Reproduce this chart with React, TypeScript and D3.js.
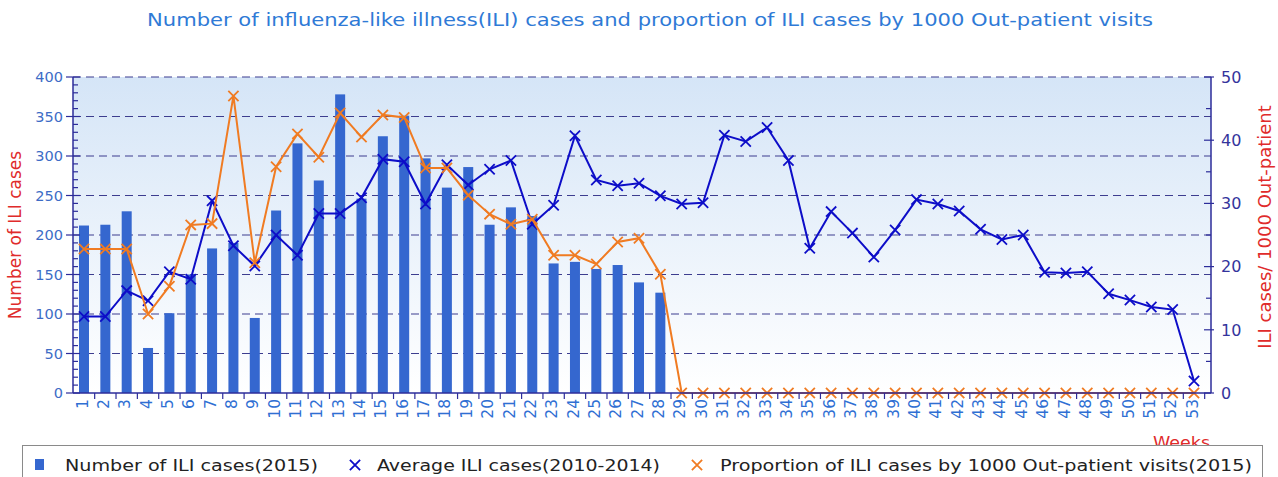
import React, { useRef, useEffect } from 'react'
import * as d3 from 'd3'

const weeks = d3.range(1, 54).map(String)

// Number of ILI cases (2015), left axis
const iliCases = [212, 213, 230, 57, 101, 150, 183, 190, 95, 231, 316, 269, 378, 246,
  325, 351, 297, 260, 286, 213, 235, 224, 164, 166, 157, 162, 140, 127]

// Average ILI cases (2010-2014), right axis
const avgCases = [12.1, 12.1, 16.2, 14.6, 19.2, 18.0, 30.4, 23.3, 20.1, 25.0, 21.8, 28.4, 28.4, 30.9,
  37.0, 36.6, 29.9, 36.1, 32.9, 35.4, 36.8, 26.7, 29.7, 40.7, 33.7, 32.8, 33.2, 31.2,
  29.9, 30.1, 40.8, 39.8, 42.0, 36.8, 22.9, 28.7, 25.3, 21.5, 25.8, 30.6, 29.9, 28.8,
  25.9, 24.3, 25.0, 19.1, 19.0, 19.2, 15.7, 14.7, 13.6, 13.2, 1.9]

// Proportion of ILI cases by 1000 out-patient visits (2015), right axis
const proportion = [22.8, 22.8, 22.8, 12.5, 16.9, 26.6, 26.8, 47.0, 20.6, 35.8, 41.0, 37.3, 44.3, 40.5,
  44.0, 43.6, 35.6, 35.6, 31.3, 28.3, 26.7, 27.5, 21.8, 21.8, 20.4, 23.9, 24.5, 18.8,
  0, 0, 0, 0, 0, 0, 0, 0, 0, 0, 0, 0, 0, 0, 0, 0, 0, 0, 0, 0, 0, 0, 0, 0, 0]

const leftTicks = [0, 50, 100, 150, 200, 250, 300, 350, 400]
const rightTicks = [0, 10, 20, 30, 40, 50]

const title = 'Number of influenza-like illness(ILI) cases and proportion of ILI cases by 1000 Out-patient visits'
const legendLabels = ['Number of ILI cases(2015)', 'Average ILI cases(2010-2014)', 'Proportion of ILI cases by 1000 Out-patient visits(2015)']

const W = 1278, H = 477
const FONT = 'DejaVu Sans, Verdana, sans-serif'

export default function App() {
  const ref = useRef<SVGSVGElement>(null)

  useEffect(() => {
    const svg = d3.select(ref.current)
    svg.selectAll('*').remove()

    const left = 73, right = 1211, top = 77, bottom = 393

    const x = d3.scalePoint().domain(weeks).range([84, 1194])
    const step = x.step()
    const yL = d3.scaleLinear().domain([0, 400]).range([bottom, top])
    const yR = d3.scaleLinear().domain([0, 50]).range([bottom, top])

    // background gradient
    const defs = svg.append('defs')
    const grad = defs.append('linearGradient').attr('id', 'bg').attr('x1', 0).attr('x2', 0).attr('y1', 0).attr('y2', 1)
    grad.append('stop').attr('offset', '0%').attr('stop-color', '#d5e5f7')
    grad.append('stop').attr('offset', '100%').attr('stop-color', '#ffffff')

    svg.append('rect').attr('width', W).attr('height', H).attr('fill', '#ffffff')
    svg.append('rect')
      .attr('x', left).attr('y', top).attr('width', right - left).attr('height', bottom - top)
      .attr('fill', 'url(#bg)')

    // title (the source is stretched sideways, so fit it to its width)
    svg.append('text')
      .attr('x', 147).attr('y', 26)
      .attr('textLength', 1006).attr('lengthAdjust', 'spacingAndGlyphs')
      .attr('font-family', FONT).attr('font-size', 17)
      .attr('fill', '#2f7ad6')
      .text(title)

    // grid
    svg.append('g').selectAll('line')
      .data(leftTicks.slice(1))
      .enter().append('line')
      .attr('x1', left).attr('x2', right)
      .attr('y1', d => yL(d)).attr('y2', d => yL(d))
      .attr('stroke', '#3d3d8f').attr('stroke-width', 1.2)
      .attr('stroke-dasharray', '8,5')

    // bars
    svg.append('g').selectAll('rect')
      .data(iliCases)
      .enter().append('rect')
      .attr('x', (d, i) => x(weeks[i]) - 5)
      .attr('width', 10)
      .attr('y', d => yL(d))
      .attr('height', d => bottom - yL(d))
      .attr('fill', '#3567cf')

    const cross = (g, data, color, yScale) => {
      g.append('path')
        .datum(data)
        .attr('fill', 'none')
        .attr('stroke', color)
        .attr('stroke-width', 2)
        .attr('d', d3.line().x((d, i) => x(weeks[i])).y(d => yScale(d)))
      g.selectAll('path.m')
        .data(data)
        .enter().append('path')
        .attr('class', 'm')
        .attr('transform', (d, i) => `translate(${x(weeks[i])},${yScale(d)})`)
        .attr('d', d3.symbol().type(d3.symbolX).size(70))
        .attr('fill', 'none')
        .attr('stroke', color)
        .attr('stroke-width', 1.8)
    }
    cross(svg.append('g'), avgCases, '#0d0dc8', yR)
    cross(svg.append('g'), proportion, '#f07b22', yR)

    // left axis
    const axisColor = '#2c2c9a'
    const la = svg.append('g')
    la.append('line').attr('x1', left).attr('x2', left).attr('y1', top).attr('y2', bottom)
      .attr('stroke', axisColor).attr('stroke-width', 1.5)
    la.selectAll('line.mn')
      .data(d3.range(0, 401, 10))
      .enter().append('line')
      .attr('x1', d => d % 50 === 0 ? left - 7 : left)
      .attr('x2', d => d % 50 === 0 ? left + 7 : left + 5)
      .attr('y1', d => yL(d)).attr('y2', d => yL(d))
      .attr('stroke', axisColor).attr('stroke-width', 1.2)
    la.selectAll('text')
      .data(leftTicks)
      .enter().append('text')
      .attr('x', left - 10).attr('y', d => yL(d)).attr('dy', '0.36em')
      .attr('text-anchor', 'end')
      .attr('font-family', FONT).attr('font-size', 14.5)
      .attr('fill', '#3d6cc6')
      .text(d => d)

    // right axis
    const ra = svg.append('g')
    ra.append('line').attr('x1', right).attr('x2', right).attr('y1', top).attr('y2', bottom)
      .attr('stroke', axisColor).attr('stroke-width', 1.5)
    ra.selectAll('line.mn')
      .data(d3.range(0, 51, 5))
      .enter().append('line')
      .attr('x1', d => d % 10 === 0 ? right - 7 : right - 5)
      .attr('x2', d => d % 10 === 0 ? right + 3 : right)
      .attr('y1', d => yR(d)).attr('y2', d => yR(d))
      .attr('stroke', axisColor).attr('stroke-width', 1.2)
    ra.selectAll('text')
      .data(rightTicks)
      .enter().append('text')
      .attr('x', right + 10).attr('y', d => yR(d)).attr('dy', '0.36em')
      .attr('font-family', FONT).attr('font-size', 16)
      .attr('fill', '#34349c')
      .text(d => d)

    // x axis
    const xa = svg.append('g')
    xa.append('line').attr('x1', left).attr('x2', right).attr('y1', bottom).attr('y2', bottom)
      .attr('stroke', axisColor).attr('stroke-width', 1.5)
    xa.selectAll('line.t')
      .data(weeks)
      .enter().append('line')
      .attr('x1', d => x(d) + step / 2).attr('x2', d => x(d) + step / 2)
      .attr('y1', bottom).attr('y2', bottom + 6)
      .attr('stroke', axisColor).attr('stroke-width', 1.2)
    xa.selectAll('text')
      .data(weeks)
      .enter().append('text')
      .attr('transform', d => `translate(${x(d) - 2},${bottom + 6}) rotate(-90)`)
      .attr('dy', '0.36em')
      .attr('text-anchor', 'end')
      .attr('font-family', FONT).attr('font-size', 15.5)
      .attr('fill', '#2f6fd3')
      .text(d => d)

    // axis titles
    svg.append('text')
      .attr('transform', `translate(21,${(top + bottom) / 2}) rotate(-90)`)
      .attr('text-anchor', 'middle')
      .attr('font-family', FONT).attr('font-size', 17)
      .attr('fill', '#e02b2b')
      .text('Number of ILI cases')
    svg.append('text')
      .attr('transform', `translate(1271,${(top + bottom) / 2 - 8}) rotate(-90)`)
      .attr('text-anchor', 'middle')
      .attr('font-family', FONT).attr('font-size', 18)
      .attr('fill', '#e02b2b')
      .text('ILI cases/ 1000 Out-patient')
    svg.append('text')
      .attr('x', 1153).attr('y', 448)
      .attr('textLength', 57).attr('lengthAdjust', 'spacingAndGlyphs')
      .attr('font-family', FONT).attr('font-size', 16)
      .attr('fill', '#e02b2b')
      .text('Weeks')

    // legend
    const lg = svg.append('g')
    lg.append('rect')
      .attr('x', 22.5).attr('y', 445.5).attr('width', 1240).attr('height', 40)
      .attr('fill', '#ffffff').attr('stroke', '#8a8a8a')
    const lx = [35, 355, 697]
    const textX = [65, 377, 720]
    const textW = [253, 283, 532]
    const ly = 465
    lg.append('rect').attr('x', lx[0]).attr('y', ly - 6).attr('width', 9).attr('height', 11).attr('fill', '#3567cf')
    lg.append('path').attr('transform', `translate(${lx[1]},${ly})`)
      .attr('d', d3.symbol().type(d3.symbolX).size(70)).attr('stroke', '#0d0dc8').attr('stroke-width', 1.8)
    lg.append('path').attr('transform', `translate(${lx[2]},${ly})`)
      .attr('d', d3.symbol().type(d3.symbolX).size(70)).attr('stroke', '#f07b22').attr('stroke-width', 1.8)
    lg.selectAll('text')
      .data(legendLabels)
      .enter().append('text')
      .attr('x', (d, i) => textX[i]).attr('y', ly).attr('dy', '0.36em')
      .attr('textLength', (d, i) => textW[i]).attr('lengthAdjust', 'spacingAndGlyphs')
      .attr('font-family', FONT).attr('font-size', 16)
      .attr('fill', '#222222')
      .text(d => d)
  }, [])

  return (
    <svg
      ref={ref}
      width={W}
      height={H}
      style={{ position: 'absolute', left: 0, top: 0, display: 'block' }}
    />
  )
}
